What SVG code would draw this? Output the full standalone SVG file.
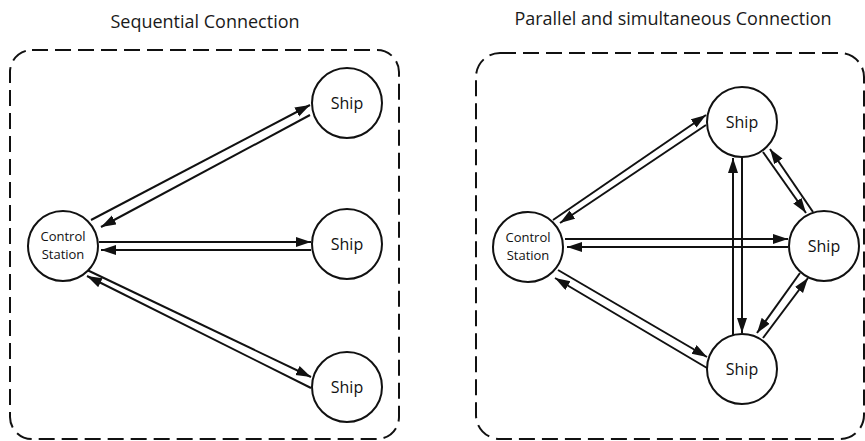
<svg xmlns="http://www.w3.org/2000/svg" width="865" height="441" viewBox="0 0 865 441">
  <style>
    .frame { fill: none; stroke: #111; stroke-width: 2; stroke-dasharray: 16 7; }
    .node circle { fill: #fff; stroke: #111; stroke-width: 2; }
    .label { font-family: "Open Sans", "Liberation Sans", sans-serif; fill: #111; text-anchor: middle; }
    .ship { font-size: 16px; }
    .cs { font-size: 13px; }
    .title { font-family: "Open Sans", "Liberation Sans", sans-serif; font-size: 18px; fill: #1a1a1a; text-anchor: middle; }
    .link line { stroke: #111; stroke-width: 2; marker-end: url(#arrow); }
  </style>
  <defs>
    <marker id="arrow" markerUnits="userSpaceOnUse" markerWidth="16" markerHeight="11" refX="15" refY="5" orient="auto">
      <path d="M0,0 L15,5 L0,10 z" fill="#111"/>
    </marker>
  </defs>
  <rect width="865" height="441" fill="#fff"/>

  <!-- titles -->
  <text class="title" x="205" y="28">Sequential Connection</text>
  <text class="title" x="673" y="25">Parallel and simultaneous Connection</text>

  <!-- dashed frames -->
  <rect class="frame" x="10" y="50" width="389" height="389" rx="22"/>
  <rect class="frame" x="476" y="53" width="388" height="386" rx="24"/>

  <!-- connectors -->
  <g id="connectors" class="link">
    <!-- sequential -->
    <line x1="91" y1="220" x2="310" y2="105"/>
    <line x1="310" y1="115" x2="101" y2="227"/>
    <line x1="99" y1="242" x2="311" y2="242"/>
    <line x1="311" y1="250" x2="101" y2="250"/>
    <line x1="85" y1="269" x2="311" y2="377"/>
    <line x1="311" y1="388" x2="87" y2="276"/>
    <!-- parallel -->
    <line x1="553" y1="220" x2="706" y2="115"/>
    <line x1="706" y1="125" x2="560" y2="223"/>
    <line x1="565" y1="239" x2="788" y2="239"/>
    <line x1="788" y1="247" x2="567" y2="247"/>
    <line x1="558" y1="270" x2="707" y2="357"/>
    <line x1="707" y1="368" x2="555" y2="278"/>
    <line x1="733" y1="335" x2="733" y2="158"/>
    <line x1="742" y1="157" x2="742" y2="333"/>
    <line x1="763" y1="152" x2="806" y2="213"/>
    <line x1="813" y1="212" x2="770" y2="149"/>
    <line x1="800" y1="273" x2="757" y2="333"/>
    <line x1="763" y1="338" x2="808" y2="278"/>
  </g>

  <!-- sequential nodes -->
  <g id="seq-control" class="node">
    <circle cx="63" cy="246" r="35"/>
    <text class="label cs" x="63" y="241">Control</text>
    <text class="label cs" x="63" y="259">Station</text>
  </g>
  <g id="seq-ship-1" class="node">
    <circle cx="347" cy="103" r="35"/>
    <text class="label ship" x="347" y="109">Ship</text>
  </g>
  <g id="seq-ship-2" class="node">
    <circle cx="347" cy="244" r="35"/>
    <text class="label ship" x="347" y="250">Ship</text>
  </g>
  <g id="seq-ship-3" class="node">
    <circle cx="347" cy="387" r="35"/>
    <text class="label ship" x="347" y="393">Ship</text>
  </g>

  <!-- parallel nodes -->
  <g id="par-control" class="node">
    <circle cx="528" cy="247" r="35"/>
    <text class="label cs" x="528" y="242">Control</text>
    <text class="label cs" x="528" y="260">Station</text>
  </g>
  <g id="par-ship-top" class="node">
    <circle cx="742" cy="122" r="35"/>
    <text class="label ship" x="742" y="128">Ship</text>
  </g>
  <g id="par-ship-right" class="node">
    <circle cx="824" cy="246" r="35"/>
    <text class="label ship" x="824" y="252">Ship</text>
  </g>
  <g id="par-ship-bottom" class="node">
    <circle cx="742" cy="369" r="35"/>
    <text class="label ship" x="742" y="375">Ship</text>
  </g>
</svg>
